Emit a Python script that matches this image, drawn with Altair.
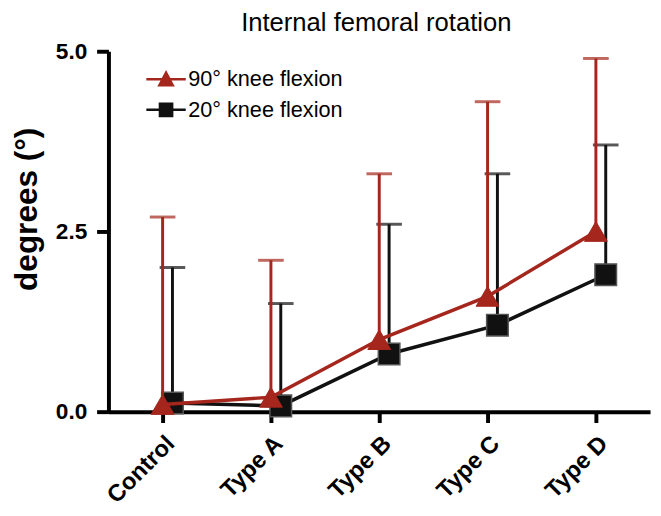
import altair as alt
import pandas as pd

categories = ["Control", "Type A", "Type B", "Type C", "Type D"]
series_names = ["90° knee flexion", "20° knee flexion"]
mean_90 = [0.10, 0.20, 1.00, 1.60, 2.50]
upper_90 = [2.70, 2.10, 3.30, 4.30, 4.90]
mean_20 = [0.12, 0.08, 0.80, 1.20, 1.90]
upper_20 = [2.00, 1.50, 2.60, 3.30, 3.70]
y_ticks = [0.0, 2.5, 5.0]

RED = "#a5261c"
BLACK = "#111111"
FONT = "Liberation Sans"

rows = []
for c, m, u in zip(categories, mean_90, upper_90):
    rows.append({"cat": c, "series": series_names[0], "mean": m, "upper": u})
for c, m, u in zip(categories, mean_20, upper_20):
    rows.append({"cat": c, "series": series_names[1], "mean": m, "upper": u})
df = pd.DataFrame(rows)

x_enc = alt.X(
    "cat:N",
    sort=categories,
    scale=alt.Scale(paddingInner=0, paddingOuter=0),
    axis=alt.Axis(
        title=None, labelAngle=-45, labelFont=FONT, labelFontSize=24,
        labelFontWeight="bold", labelColor="black", tickSize=11, tickWidth=4,
        tickColor="black", domainWidth=4, domainColor="black", labelPadding=9,
    ),
)

y_axis = alt.Axis(
    values=y_ticks, format=".1f", labelFont=FONT, labelFontSize=23,
    labelFontWeight="bold", labelColor="black", tickSize=12, tickWidth=4,
    tickColor="black", domainWidth=4, domainColor="black", labelPadding=10,
    grid=False, titleFont=FONT, titleFontSize=32, titleFontWeight="bold",
    titleColor="black", titleX=-83, titleY=160, titleBaseline="middle",
)


def y_enc(field):
    return alt.Y(field, type="quantitative", scale=alt.Scale(domain=[0, 5]),
                 axis=y_axis, title="degrees (°)")


def layers_for(name, color, shape, size, offset, pt_stroke, pt_sw):
    d = alt.Chart(df).transform_filter(alt.datum.series == name)
    rule = d.mark_rule(color=color, strokeWidth=3, xOffset=offset).encode(
        x=x_enc, y=y_enc("mean"), y2="upper:Q")
    cap = d.mark_tick(color=color, thickness=3, size=26, xOffset=offset).encode(
        x=x_enc, y=y_enc("upper"))
    line = d.mark_line(color=color, strokeWidth=3.5, xOffset=offset).encode(
        x=x_enc, y=y_enc("mean"))
    pts = d.mark_point(shape=shape, filled=True, fill=color, opacity=1, size=size,
                       stroke=pt_stroke, strokeWidth=pt_sw, xOffset=offset).encode(
        x=x_enc, y=y_enc("mean"))
    return [rule, cap, line, pts]


black_layers = layers_for(series_names[1], BLACK, "square", 480, 10, "#555555", 1.5)
red_layers = layers_for(series_names[0], RED, "triangle-up", 540, 0, RED, 1)

tri_path = "M-2,0H2M-0.68,0.6L0,-0.68L0.68,0.6Z"
sq_path = "M-2,0H2M-0.62,-0.62H0.62V0.62H-0.62Z"

leg = alt.Legend(
    title=None, orient="none", legendX=47, legendY=17, labelFont=FONT,
    labelFontSize=22, labelColor="black", symbolSize=400, symbolStrokeWidth=2.5,
    symbolOpacity=1, labelOffset=11, rowPadding=8,
)
legend_layer = alt.Chart(df).transform_filter("false").mark_point(
    filled=True, size=400).encode(
    shape=alt.Shape("series:N", scale=alt.Scale(domain=series_names, range=[tri_path, sq_path]), legend=leg),
    fill=alt.Fill("series:N", scale=alt.Scale(domain=series_names, range=[RED, BLACK]), legend=leg),
    stroke=alt.Stroke("series:N", scale=alt.Scale(domain=series_names, range=[RED, BLACK]), legend=leg),
)

chart = alt.layer(*black_layers, *red_layers, legend_layer).properties(
    width=550, height=366,
    autosize=alt.AutoSizeParams(type="none"),
    padding={"left": 102, "top": 40, "right": 3, "bottom": 100},
    title=alt.TitleParams("Internal femoral rotation", font=FONT, fontSize=26,
                          fontWeight="normal", color="black", anchor="middle",
                          offset=5, dx=-3),
).configure_view(stroke=None)

chart.save("out.html", embed_options={"renderer": "svg", "actions": False})
